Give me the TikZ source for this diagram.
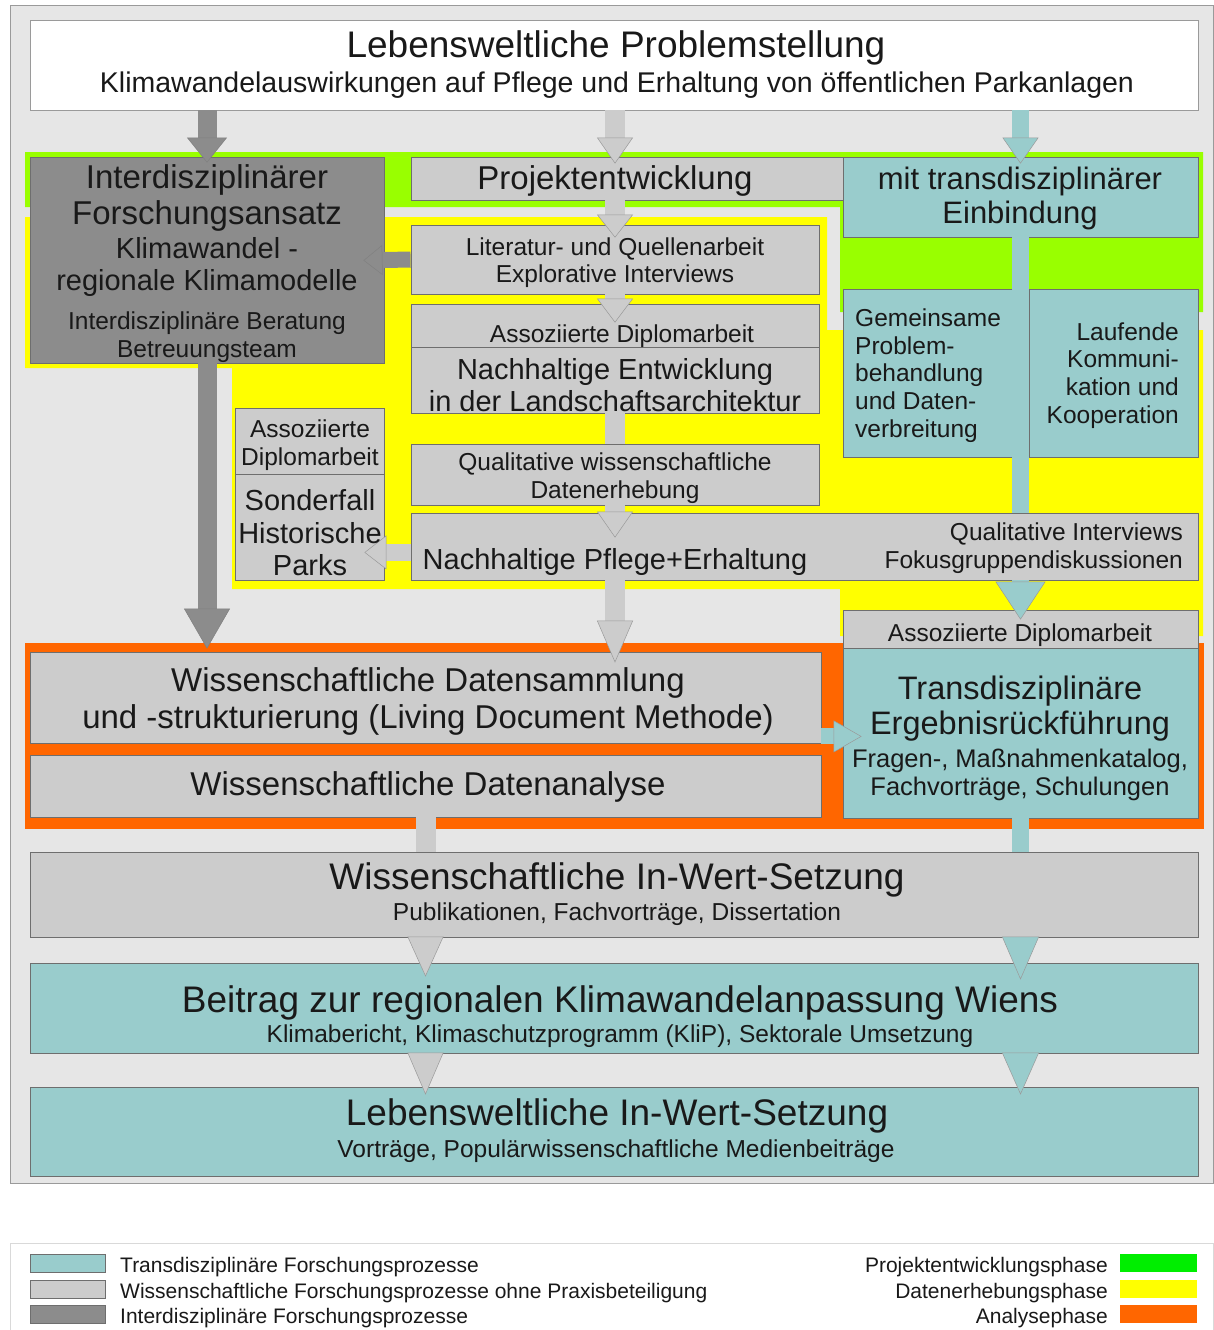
\documentclass[tikz,border=0pt]{standalone}
\usepackage{fontspec}
\setmainfont{Liberation Sans}
\usetikzlibrary{arrows.meta,fit,calc}
\definecolor{framebg}{HTML}{E6E6E6}
\definecolor{framegray}{HTML}{9A9A9A}
\definecolor{transteal}{HTML}{99CCCC}
\definecolor{wissgray}{HTML}{CCCCCC}
\definecolor{intergray}{HTML}{8C8C8C}
\definecolor{phasegreen}{HTML}{99FF00}
\definecolor{phaseyellow}{HTML}{FFFF00}
\definecolor{phaseorange}{HTML}{FF6600}
\definecolor{keygreen}{HTML}{00EE00}
\definecolor{boxline}{HTML}{6E6E6E}
\newcommand{\fsz}[2]{\fontsize{#1pt}{#2pt}\selectfont}

\begin{document}
\begin{tikzpicture}[x=1pt, y=-1pt,
    box/.style={rectangle, inner sep=0pt, draw=boxline, line width=0.8pt},
    transbox/.style={box, fill=transteal},
    wissbox/.style={box, fill=wissgray},
    interbox/.style={box, fill=intergray},
    txt/.style={inner sep=0pt, text=black!90, align=center, yshift=-3pt},
    wissarrow/.style 2 args={draw=wissgray, line width=20pt,
        -{Triangle[length=#1, width=#2, fill=wissgray, color=black!40, line width=0.5pt]}},
    transarrow/.style 2 args={draw=transteal, line width=17pt,
        -{Triangle[length=#1, width=#2, fill=transteal, color=black!40, line width=0.5pt]}},
    interarrow/.style 2 args={draw=intergray, line width=19pt,
        -{Triangle[length=#1, width=#2, fill=intergray, color=black!50, line width=0.5pt]}},
    wissshaft/.style={draw=wissgray, line width=20pt},
    transshaft/.style={draw=transteal, line width=17pt}]
    \useasboundingbox (0,0) rectangle (1214,1330);

    % Frame
    \fill[framebg] (10,6) rectangle (1213,1183);
    \draw[framegray, line width=1pt] (10,6) rectangle (1213,1183);

    % Phases
    \fill[phasegreen] (25,152) -- (1203,152) -- (1203,312) -- (840,312) -- (840,207) -- (25,207) -- cycle;
    \fill[phaseyellow] (25,217) -- (827,217) -- (827,330) -- (1203,330) -- (1203,636) -- (840,636)
        -- (840,589) -- (232,589) -- (232,368) -- (25,368) -- cycle;
    \fill[phaseorange] (25,643) rectangle (1204,829);

    % Boxes
    \node[box, fill=white, draw=framegray, fit={(30,20) (1198,110)}] (prob) {};
    \node[interbox, fit={(30,157) (384,363)}] (inter) {};
    \node[wissbox, fit={(411,157) (843,200)}] (proj) {};
    \node[transbox, fit={(843,157) (1198,237)}] (einb) {};
    \node[wissbox, fit={(411,225) (819,294)}] (lit) {};
    \node[wissbox, fit={(411,304) (819,347)}] (dipA) {};
    \node[wissbox, fit={(411,347) (819,413)}] (nachE) {};
    \node[wissbox, fit={(411,444) (819,505)}] (qual) {};
    \node[wissbox, fit={(411,513) (1198,580)}] (pflege) {};
    \node[transbox, fit={(843,289) (1013,457)}] (gem) {};
    \node[transbox, fit={(1029,289) (1198,457)}] (lauf) {};
    \node[wissbox, fit={(235,408) (384,474)}] (dipB) {};
    \node[wissbox, fit={(235,474) (384,580)}] (sond) {};
    \node[wissbox, fit={(843,610) (1198,648)}] (dipC) {};
    \node[transbox, fit={(843,648) (1198,818)}] (rueck) {};
    \node[wissbox, fit={(30,652) (821,743)}] (samml) {};
    \node[wissbox, fit={(30,755) (821,817)}] (anal) {};
    \node[wissbox, fit={(30,852) (1198,937)}] (wiss) {};
    \node[transbox, fit={(30,963) (1198,1053)}] (beitr) {};
    \node[transbox, fit={(30,1087) (1198,1176)}] (lebw) {};

    % Arrows
    \draw[interarrow={25pt}{40pt}, shorten >=-6pt] (prob.south -| inter.north) -- (inter.north);
    \draw[wissarrow={26pt}{36pt}, shorten >=-7pt] (prob.south -| lit.north) -- (proj.north -| lit.north);
    \draw[transarrow={26pt}{36pt}, shorten >=-7pt] (prob.south -| einb.north) -- (einb.north);
    \draw[wissarrow={23pt}{36pt}, shorten >=-13pt] (proj.south -| lit.north) -- (lit.north);
    \draw[wissarrow={24pt}{36pt}, shorten >=-19pt] (lit.south) -- (dipA.north);
    \draw[interarrow={19pt}{30pt}, shorten >=-21pt, line width=16pt] (lit.west) -- (inter.east);
    \draw[wissshaft] (nachE.south) -- (qual.north);
    \draw[wissarrow={26pt}{36pt}, shorten >=-25pt] (qual.south) -- (pflege.north -| qual.south);
    \coordinate (pflegeL) at ($(pflege.south west)+(0,-28)$);
    \draw[wissarrow={22pt}{34pt}, shorten >=-20pt, line width=17pt] (pflegeL) -- (sond.east |- pflegeL);
    \draw[wissarrow={42pt}{36pt}, shorten >=-11pt] (pflege.south -| qual.south) -- (samml.north -| qual.south);
    \draw[interarrow={40pt}{46pt}, shorten >=3pt] (inter.south) -- (samml.north -| inter.south);
    \draw[transshaft] (einb.south) -- (pflege.north -| einb.south);
    \draw[transarrow={38pt}{50pt}, shorten >=-10pt] (pflege.south -| einb.south) -- (dipC.north);
    \coordinate (sammlR) at ($(samml.south east)+(0,-7)$);
    \draw[transarrow={28pt}{32pt}, shorten >=-19pt, line width=16pt] (sammlR) -- (rueck.west |- sammlR);
    \draw[wissshaft] (anal.south) -- (wiss.north -| anal.south);
    \draw[transshaft] (rueck.south) -- (wiss.north -| rueck.south);
    \draw[wissarrow={40pt}{36pt}, shorten >=-14pt] (wiss.south -| anal.south) -- (beitr.north -| anal.south);
    \draw[transarrow={43pt}{37pt}, shorten >=-17pt] (wiss.south -| rueck.south) -- (beitr.north -| rueck.south);
    \draw[wissarrow={42pt}{36pt}, shorten >=-8pt] (beitr.south -| anal.south) -- (lebw.north -| anal.south);
    \draw[transarrow={42pt}{37pt}, shorten >=-8pt] (beitr.south -| rueck.south) -- (lebw.north -| rueck.south);

    % Texts
    \node[txt, font=\fsz{37}{40}] (probT) at (616,45) {Lebensweltliche Problemstellung};
    \node[txt, font=\fsz{28.5}{32}] (probS) at (617,82) {Klimawandelauswirkungen auf Pflege und Erhaltung von öffentlichen Parkanlagen};
    \node[txt, font=\fsz{33}{36}] (interT) at (207,195) {Interdisziplinärer\\Forschungsansatz};
    \node[txt, font=\fsz{29}{32}] (interK) at (207,264) {Klimawandel -\\regionale Klimamodelle};
    \node[txt, font=\fsz{24.5}{28}] (interB) at (207,334) {Interdisziplinäre Beratung\\Betreuungsteam};
    \node[txt, font=\fsz{33}{36}] (projT) at (615,178) {Projektentwicklung};
    \node[txt, font=\fsz{31}{34}] (einbT) at (1020,195) {mit transdisziplinärer\\Einbindung};
    \node[txt, font=\fsz{24.5}{27}] (litT) at (615,259.5) {Literatur- und Quellenarbeit\\Explorative Interviews};
    \node[txt, font=\fsz{24.5}{27}] (dipAT) at (622,333) {Assoziierte Diplomarbeit};
    \node[txt, font=\fsz{29}{32}] (nachET) at (615,382) {Nachhaltige Entwicklung\\in der Landschaftsarchitektur};
    \node[txt, font=\fsz{24.5}{28}] (qualT) at (615,475) {Qualitative wissenschaftliche\\Datenerhebung};
    \node[txt, font=\fsz{29}{32}] (pflegeT) at (615,559) {Nachhaltige Pflege+Erhaltung};
    \node[txt, font=\fsz{24.5}{28}, align=right, anchor=east] (pflegeI) at (1183,545) {Qualitative Interviews\\Fokusgruppendiskussionen};
    \node[txt, font=\fsz{24.5}{27.8}, align=left, anchor=west] (gemT) at (855,372.5) {Gemeinsame\\Problem-\\behandlung\\und Daten-\\verbreitung};
    \node[txt, font=\fsz{24.5}{27.7}, align=right, anchor=east] (laufT) at (1179,372.5) {Laufende\\Kommuni-\\kation und\\Kooperation};
    \node[txt, font=\fsz{24.5}{28}] (dipBT) at (310,442) {Assoziierte\\Diplomarbeit};
    \node[txt, font=\fsz{29}{32.5}] (sondT) at (310,530) {Sonderfall\\Historische\\Parks};
    \node[txt, font=\fsz{24.5}{27}] (dipCT) at (1020,632) {Assoziierte Diplomarbeit};
    \node[txt, font=\fsz{32.5}{35}] (rueckT) at (1020,705.5) {Transdisziplinäre\\Ergebnisrückführung};
    \node[txt, font=\fsz{25.5}{28}] (rueckF) at (1020,772) {Fragen-, Maßnahmenkatalog,\\Fachvorträge, Schulungen};
    \node[txt, font=\fsz{33}{37}] (sammlT) at (428,698.5) {Wissenschaftliche Datensammlung\\und -strukturierung (Living Document Methode)};
    \node[txt, font=\fsz{33}{36}] (analT) at (428,784) {Wissenschaftliche Datenanalyse};
    \node[txt, font=\fsz{37}{40}] (wissT) at (617,877) {Wissenschaftliche In-Wert-Setzung};
    \node[txt, font=\fsz{24.5}{28}] (wissP) at (617,911) {Publikationen, Fachvorträge, Dissertation};
    \node[txt, font=\fsz{37}{40}] (beitrT) at (620,1000) {Beitrag zur regionalen Klimawandelanpassung Wiens};
    \node[txt, font=\fsz{24.5}{28}] (beitrK) at (620,1033) {Klimabericht, Klimaschutzprogramm (KliP), Sektorale Umsetzung};
    \node[txt, font=\fsz{37}{40}] (lebwT) at (617,1113) {Lebensweltliche In-Wert-Setzung};
    \node[txt, font=\fsz{24.5}{28}] (lebwV) at (616,1148) {Vorträge, Populärwissenschaftliche Medienbeiträge};

    % Legend
    \draw[black!15, line width=1pt] (10,1243) rectangle (1213,1330);
    \node[transbox, fit={(30,1254) (105,1272)}] (keyTrans) {};
    \node[wissbox, fit={(30,1280) (105,1298)}] (keyWiss) {};
    \node[interbox, fit={(30,1305) (105,1323)}] (keyInter) {};
    \node[txt, font=\fsz{21}{24}, anchor=west] (keyTransT) at (120,1264) {Transdisziplinäre Forschungsprozesse};
    \node[txt, font=\fsz{21}{24}, anchor=west] (keyWissT) at (120,1290) {Wissenschaftliche Forschungsprozesse ohne Praxisbeteiligung};
    \node[txt, font=\fsz{21}{24}, anchor=west] (keyInterT) at (120,1315) {Interdisziplinäre Forschungsprozesse};
    \fill[keygreen] (1120,1254) rectangle (1197,1272);
    \fill[phaseyellow] (1120,1280) rectangle (1197,1298);
    \fill[phaseorange] (1120,1305) rectangle (1197,1323);
    \node[txt, font=\fsz{21}{24}, anchor=east] (keyProj) at (1108,1264) {Projektentwicklungsphase};
    \node[txt, font=\fsz{21}{24}, anchor=east] (keyErh) at (1108,1290) {Datenerhebungsphase};
    \node[txt, font=\fsz{21}{24}, anchor=east] (keyAna) at (1108,1315) {Analysephase};
\end{tikzpicture}
\end{document}
